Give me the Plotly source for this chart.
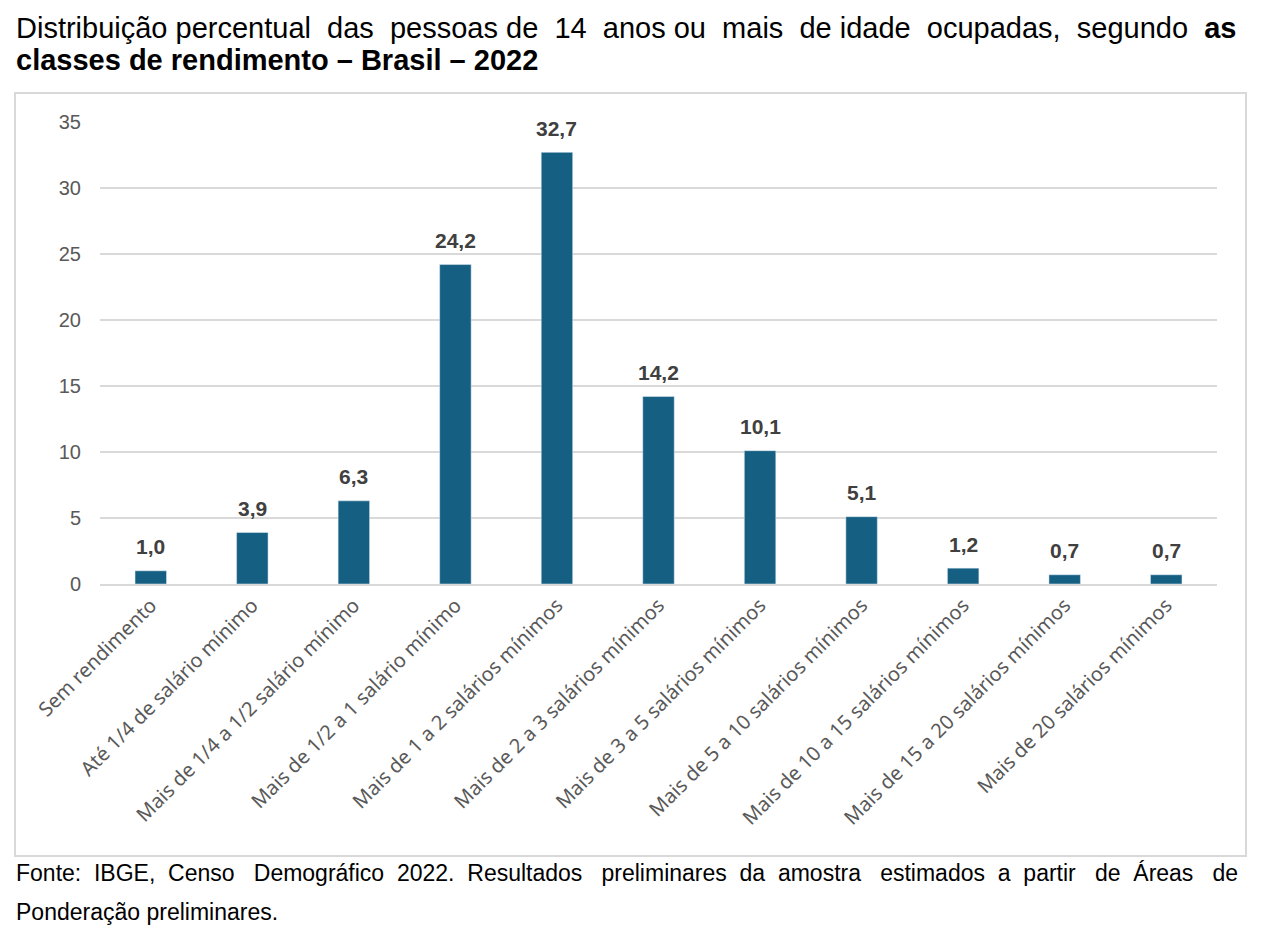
import plotly.graph_objects as go

categories = [
    "Sem rendimento",
    "Até 1/4 de salário mínimo",
    "Mais de 1/4 a 1/2 salário mínimo",
    "Mais de 1/2 a 1 salário mínimo",
    "Mais de 1 a 2 salários mínimos",
    "Mais de 2 a 3 salários mínimos",
    "Mais de 3 a 5 salários mínimos",
    "Mais de 5 a 10 salários mínimos",
    "Mais de 10 a 15 salários mínimos",
    "Mais de 15 a 20 salários mínimos",
    "Mais de 20 salários mínimos",
]
values = [1.0, 3.9, 6.3, 24.2, 32.7, 14.2, 10.1, 5.1, 1.2, 0.7, 0.7]
y_ticks = [0, 5, 10, 15, 20, 25, 30, 35]

labels = [f"{v:.1f}".replace(".", ",") for v in values]

OFF = 8  # page body offset
W, H = 1272 - OFF, 928 - OFF
L, R, T, B = 100 - OFF, 55, 122 - OFF, 928 - 584
pw = W - L - R
ph = H - T - B

def px(x):
    return (x - OFF - L) / pw

def py(y):
    return (H - B - (y - OFF)) / ph

def justify(words, extra):
    # add non-breaking spaces to spread words across the line
    out = words[0]
    n = len(words) - 1
    for i, w in enumerate(words[1:]):
        k = ((i + 1) * extra) // n - (i * extra) // n
        out += " " + "&nbsp;" * k + w
    return out

title1 = justify("Distribuição percentual das pessoas de 14 anos ou mais de idade ocupadas, segundo <b>as</b>".split(" "), 9)
foot1 = justify("Fonte: IBGE, Censo Demográfico 2022. Resultados preliminares da amostra estimados a partir de Áreas de".split(" "), 19)

fig = go.Figure(go.Bar(
    x=categories, y=values,
    marker=dict(color="#156082"),
    width=0.31,
))

annotations = [
    dict(x=c, y=v, text=t, xref="x", yref="y", yshift=24, yanchor="middle",
         showarrow=False,
         font=dict(family="Liberation Sans", size=21, color="#404040", weight="bold"))
    for c, v, t in zip(categories, values, labels)
]
annotations += [
    dict(
        xref="paper", yref="paper", x=px(14), y=py(28), xanchor="left", yanchor="middle",
        text=title1,
        showarrow=False, font=dict(family="Liberation Sans", size=29, color="black"),
    ),
    dict(
        xref="paper", yref="paper", x=px(14), y=py(60), xanchor="left", yanchor="middle",
        text="<b>classes de rendimento – Brasil – 2022</b>",
        showarrow=False, font=dict(family="Liberation Sans", size=29, color="black"),
    ),
    dict(
        xref="paper", yref="paper", x=px(14), y=py(873), xanchor="left", yanchor="middle",
        text=foot1,
        showarrow=False, font=dict(family="Liberation Sans", size=23, color="black"),
    ),
    dict(
        xref="paper", yref="paper", x=px(14), y=py(912), xanchor="left", yanchor="middle",
        text="Ponderação preliminares.",
        showarrow=False, font=dict(family="Liberation Sans", size=23, color="black"),
    ),
]

fig.update_layout(
    width=W, height=H,
    margin=dict(l=L, r=R, t=T, b=B),
    paper_bgcolor="white", plot_bgcolor="white",
    showlegend=False,
    xaxis=dict(
        tickangle=-45,
        tickfont=dict(family="Noto Sans", size=20, color="#595959"),
        showgrid=False, showline=True, linecolor="#d9d9d9", linewidth=1.5,
        ticks="",
    ),
    yaxis=dict(
        range=[0, 35], tickvals=y_ticks,
        tickfont=dict(family="Liberation Sans", size=20, color="#595959"),
        showgrid=True, gridcolor="#d9d9d9", gridwidth=1.5,
        zeroline=False, ticks="", ticklabelstandoff=18,
    ),
    shapes=[dict(
        type="rect", xref="paper", yref="paper",
        x0=px(15), x1=px(1246), y0=py(856), y1=py(93),
        line=dict(color="#d9d9d9", width=2), fillcolor="rgba(0,0,0,0)",
        layer="below",
    )],
    annotations=annotations,
)

fig.write_html("out.html")
